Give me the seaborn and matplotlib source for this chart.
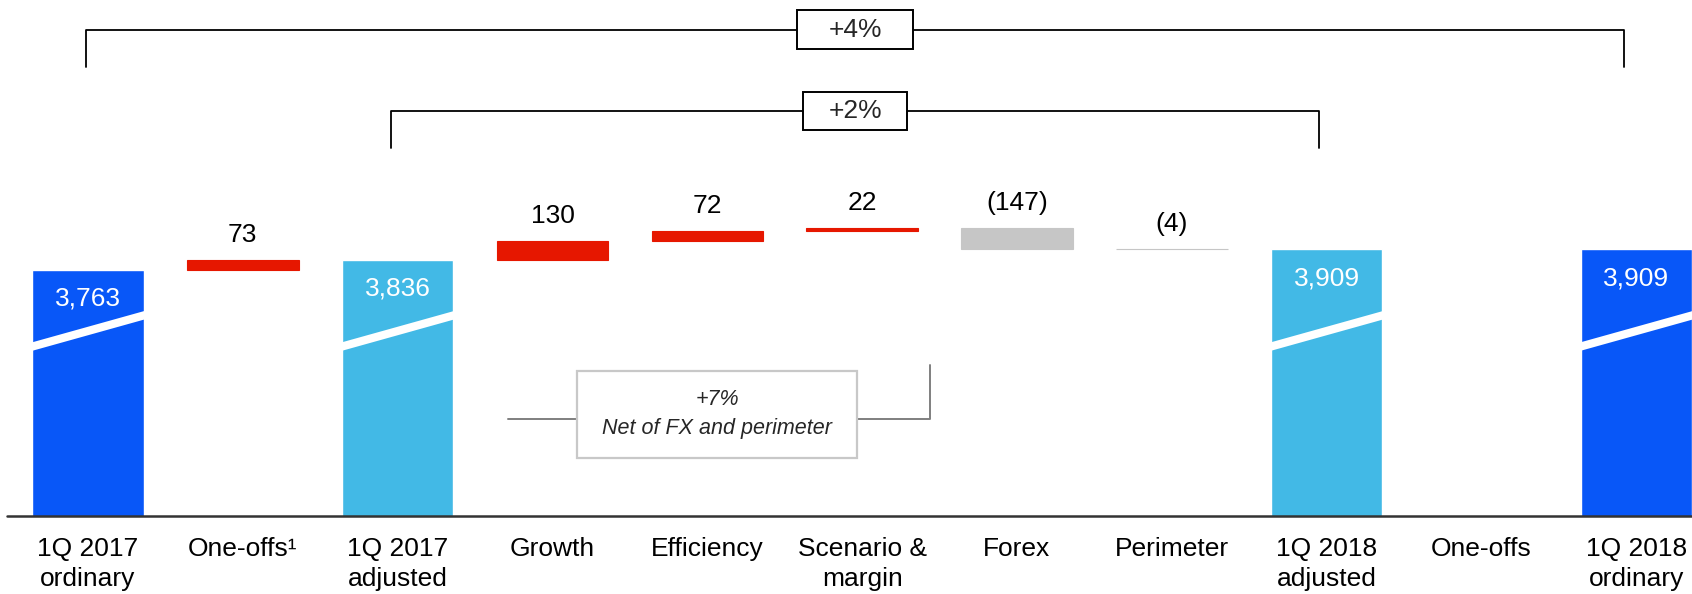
import numpy as np
import pandas as pd
import matplotlib.pyplot as plt
import matplotlib.transforms as mtransforms
from matplotlib.patches import Rectangle, Polygon
import seaborn as sns

# categories along the bridge
categories = ['1Q 2017\nordinary', 'One-offs\u00b9', '1Q 2017\nadjusted', 'Growth', 'Efficiency',
              'Scenario &\nmargin', 'Forex', 'Perimeter', '1Q 2018\nadjusted', 'One-offs',
              '1Q 2018\nordinary']

# totals (full bars)
total_names = ['1Q 2017\nordinary', '1Q 2017\nadjusted', '1Q 2018\nadjusted', '1Q 2018\nordinary']
total_values = [3763, 3836, 3909, 3909]

# floating steps
step_names = ['One-offs\u00b9', 'Growth', 'Efficiency', 'Scenario &\nmargin', 'Forex', 'Perimeter']
step_values = [73, 130, 72, 22, -147, -4]
step_labels = ['73', '130', '72', '22', '(147)', '(4)']

bracket_labels = ['+4%', '+2%']
note_lines = ['+7%', 'Net of FX and perimeter']

dark_blue = '#0857F8'
light_blue = '#42B9E6'
red = '#E61700'
grey = '#C6C6C6'

sns.set_style('white')
plt.rcParams['font.family'] = ['Liberation Sans', 'DejaVu Sans']

fig = plt.figure(figsize=(16.92, 5.94), dpi=100)
ax = fig.add_axes([0, 78 / 594, 1, 516 / 594])

df_tot = pd.DataFrame({'stage': total_names, 'value': total_values})
pal = {total_names[0]: dark_blue, total_names[1]: light_blue,
       total_names[2]: light_blue, total_names[3]: dark_blue}
sns.barplot(data=df_tot, x='stage', y='value', order=categories, hue='stage',
            palette=pal, width=0.72, saturation=1, legend=False, ax=ax)

# waterfall steps
ends = total_values[0] + np.cumsum(step_values)
starts = ends - np.array(step_values)
for name, v, s, e, lab in zip(step_names, step_values, starts, ends, step_labels):
    p = categories.index(name)
    col = red if v > 0 else grey
    # thin edge keeps the tiny perimeter step visible
    ax.bar(p, abs(v), bottom=min(s, e), width=0.72, color=col, edgecolor=col, linewidth=0.8)
    ax.annotate(lab, xy=(p, max(s, e)), xytext=(0, 25), textcoords='offset pixels',
                ha='center', va='center', fontsize=19, color='black')

ax.set_ylim(2004, 5690)
ax.set_xlim(-0.568, 10.36)
ax.set_xlabel('')
ax.set_ylabel('')
ax.set_yticks([])
for sp in ax.spines.values():
    sp.set_visible(False)
ax.tick_params(axis='x', length=0, pad=15, labelsize=19, colors='black')
for tl in ax.get_xticklabels():
    tl.set_linespacing(1.32)

trans = mtransforms.blended_transform_factory(ax.transData, ax.transAxes)

# break stripes and value labels on total bars
for name, v in zip(total_names, total_values):
    p = categories.index(name)
    xl, xr = p - 0.37, p + 0.37
    c, rise, t = 0.3585, 0.031, 0.0165
    stripe = Polygon([(xl, c - rise - t / 2), (xr, c + rise - t / 2),
                      (xr, c + rise + t / 2), (xl, c - rise + t / 2)],
                     closed=True, transform=trans, fc='white', ec='none', zorder=5)
    ax.add_patch(stripe)
    ax.annotate(f'{v:,}', xy=(p, v), xytext=(0, -29), textcoords='offset pixels',
                ha='center', va='center', fontsize=19, color='white', zorder=6)

# baseline
ax.plot([-0.523, 10.6], [2004, 2004], color='#333333', lw=1.8, clip_on=False, zorder=7)

# brackets
brackets = [(-0.01, 9.92, 0.942, 0.870, 0.75, 0.0756),
            (1.96, 7.95, 0.785, 0.713, 0.672, 0.0736)]
for (x0, x1, yh, yl, bw, bh), lab in zip(brackets, bracket_labels):
    ax.plot([x0, x0, x1, x1], [yl, yh, yh, yl], transform=trans, color='black',
            lw=1.3, clip_on=False)
    xc = (x0 + x1) / 2
    ax.add_patch(Rectangle((xc - bw / 2, yh - bh / 2), bw, bh, transform=trans,
                           fc='white', ec='black', lw=1.4, zorder=3))
    ax.text(xc, yh, lab, transform=trans, ha='center', va='center', fontsize=19, zorder=4)

# net of FX note
ax.plot([2.71, 3.16], [0.188, 0.188], transform=trans, color='#7f7f7f', lw=1.4)
ax.plot([4.97, 5.44, 5.44], [0.188, 0.188, 0.293], transform=trans, color='#7f7f7f', lw=1.4)
ax.add_patch(Rectangle((3.16, 0.112), 1.81, 0.169, transform=trans,
                       fc='white', ec='#c8c8c8', lw=1.6, zorder=3))
ax.text(4.065, 0.225, note_lines[0], transform=trans, ha='center', va='center',
        fontsize=15.5, style='italic', zorder=4)
ax.text(4.065, 0.169, note_lines[1], transform=trans, ha='center', va='center',
        fontsize=15.5, style='italic', zorder=4)

fig.savefig('out.png', dpi=100)
